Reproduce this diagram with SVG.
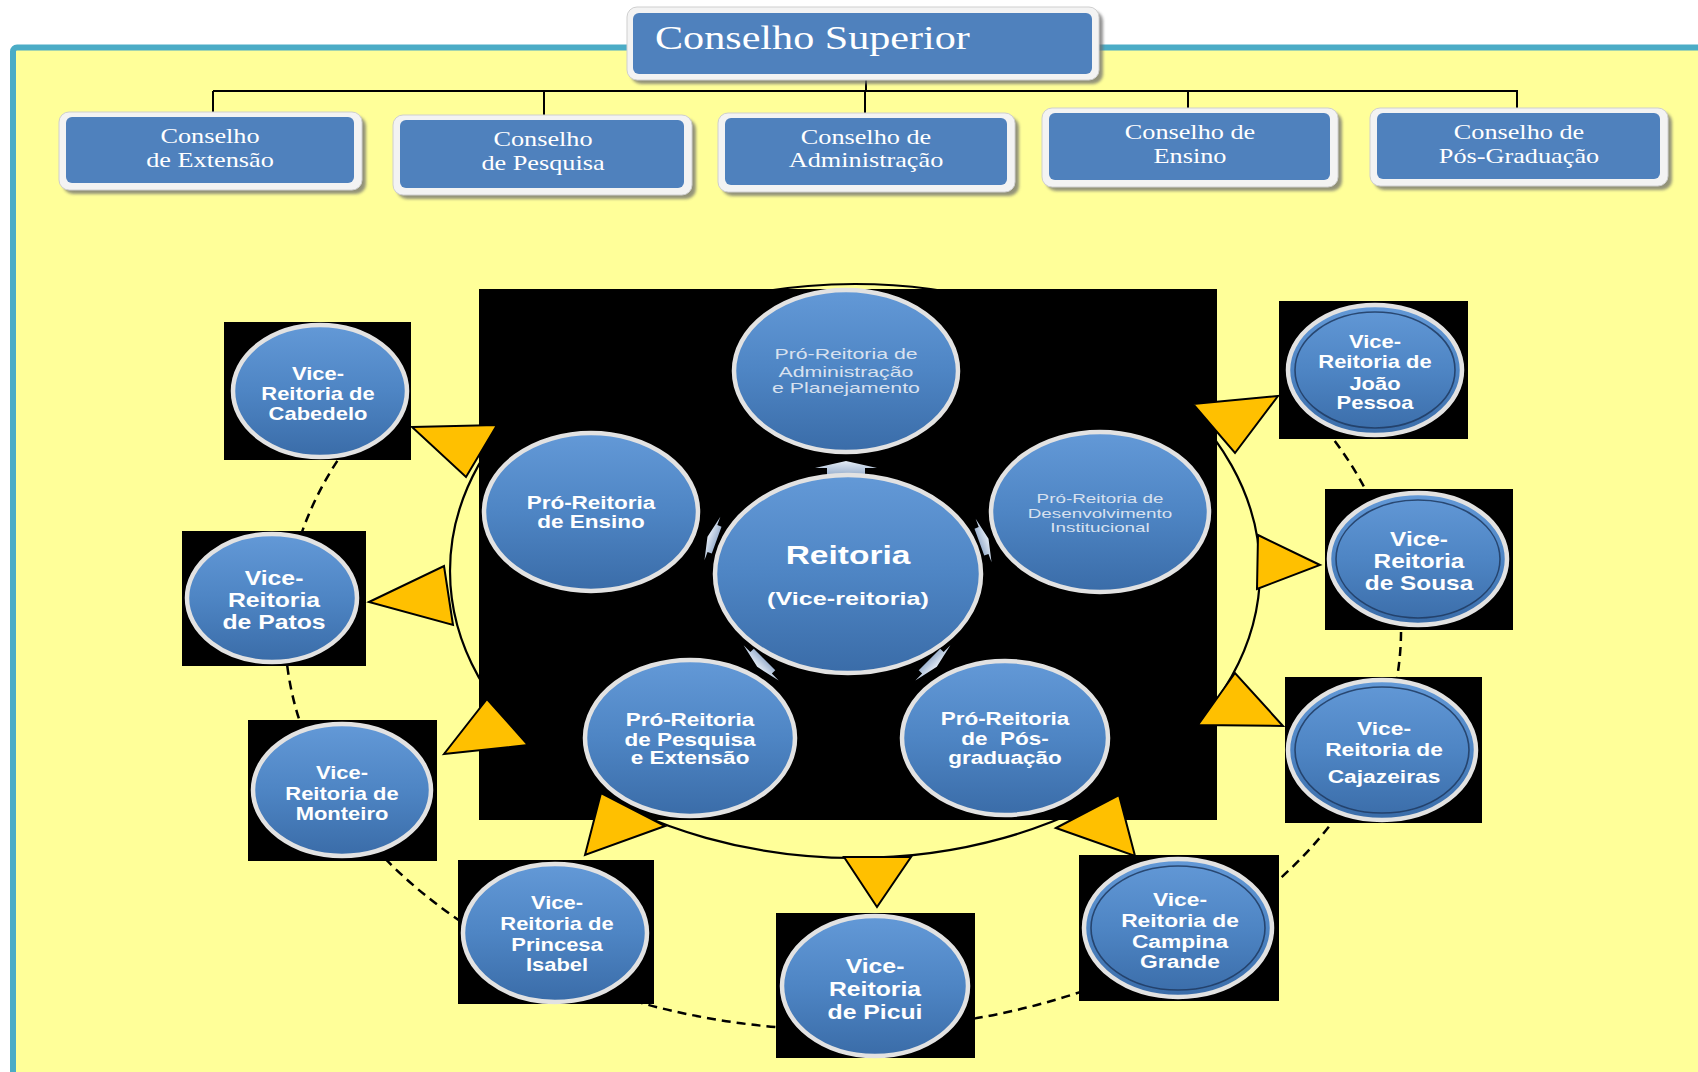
<svg xmlns="http://www.w3.org/2000/svg" width="1698" height="1072" viewBox="0 0 1698 1072">
<defs>
<style>
.rim{fill:#F3F3F3;stroke:#CFCFCF;stroke-width:1}
.cfill{fill:#4F81BD}
.shadow{fill:#6E6E6E;opacity:.75;filter:url(#blur)}
.serif{font-family:"Liberation Serif","Times New Roman",serif;fill:#FFFFFF;text-anchor:middle}
.sb{font-family:"Liberation Sans",Arial,sans-serif;font-weight:bold;fill:#FFFFFF;text-anchor:middle}
.sr{font-family:"Liberation Sans",Arial,sans-serif;fill:#D8E1EF;text-anchor:middle}
.tri{fill:#FFC000;stroke:#000;stroke-width:2;stroke-linejoin:miter}
.dash{fill:none;stroke:#000;stroke-width:2.5;stroke-dasharray:9 6}
.conn{fill:none;stroke:#000;stroke-width:2}
.oval{fill:url(#gBlue);stroke:#E2E2E2;stroke-width:4.5}
.inring{fill:none;stroke:#1E3A60;stroke-width:1.6;opacity:.85}
.vbox{fill:#000}
.barrow{fill:url(#gArrow)}
</style>
<filter id="blur" x="-10%" y="-10%" width="120%" height="130%"><feGaussianBlur stdDeviation="1.5"/></filter>
<linearGradient id="gBlue" x1="0" y1="0" x2="0" y2="1">
<stop offset="0" stop-color="#6399D7"/>
<stop offset="0.5" stop-color="#4E85C4"/>
<stop offset="1" stop-color="#3A6CA8"/>
</linearGradient>
<linearGradient id="gArrow" x1="0" y1="0" x2="0" y2="1">
<stop offset="0" stop-color="#E4ECF6"/>
<stop offset="1" stop-color="#9FB4D0"/>
</linearGradient>
<path id="ba" d="M-19,8 L-19,2 L-31,2 L0,-5 L31,2 L19,2 L19,8 Z"/>
</defs>

<rect x="0" y="0" width="1698" height="1072" fill="#FFFFFF"/>
<rect id="frame" x="13" y="47.5" width="1720" height="1100" rx="4" fill="#FFFF99" stroke="#4BACC6" stroke-width="6"/>

<g id="connectors">
<path class="conn" d="M866,80 V91 M213,91 H1518 M213,91 V112 M544,91 V115 M865,91 V113 M1188,91 V108 M1517,91 V108"/>
<ellipse cx="855" cy="571" rx="405" ry="287" fill="none" stroke="#000" stroke-width="2.2"/>
</g>

<g id="conselho-superior">
<rect class="shadow" x="631" y="11" width="472" height="73" rx="10"/>
<rect class="rim" x="627" y="7" width="472" height="73" rx="10"/>
<rect class="cfill" x="633" y="13" width="459" height="61" rx="6"/>
<text class="serif" style="text-anchor:start" font-size="34" transform="translate(655,49) scale(1.24,1)">Conselho Superior</text>
</g>

<g id="conselho-extensao">
<rect class="shadow" x="63" y="116" width="303" height="78" rx="10"/>
<rect class="rim" x="59" y="112" width="303" height="78" rx="10"/>
<rect class="cfill" x="66" y="117" width="288" height="66" rx="6"/>
<text class="serif" font-size="21" transform="translate(210,0) scale(1.25,1)"><tspan x="0" y="143">Conselho</tspan><tspan x="0" y="167">de Extensão</tspan></text>
</g>

<g id="conselho-pesquisa">
<rect class="shadow" x="397" y="119" width="299" height="80" rx="10"/>
<rect class="rim" x="393" y="115" width="299" height="80" rx="10"/>
<rect class="cfill" x="400" y="120" width="284" height="68" rx="6"/>
<text class="serif" font-size="21" transform="translate(543,0) scale(1.25,1)"><tspan x="0" y="146">Conselho</tspan><tspan x="0" y="170">de Pesquisa</tspan></text>
</g>

<g id="conselho-administracao">
<rect class="shadow" x="722" y="117" width="297" height="79" rx="10"/>
<rect class="rim" x="718" y="113" width="297" height="79" rx="10"/>
<rect class="cfill" x="725" y="118" width="282" height="67" rx="6"/>
<text class="serif" font-size="21" transform="translate(866,0) scale(1.25,1)"><tspan x="0" y="144">Conselho de</tspan><tspan x="0" y="167">Administração</tspan></text>
</g>

<g id="conselho-ensino">
<rect class="shadow" x="1046" y="112" width="296" height="79" rx="10"/>
<rect class="rim" x="1042" y="108" width="296" height="79" rx="10"/>
<rect class="cfill" x="1049" y="113" width="281" height="67" rx="6"/>
<text class="serif" font-size="21" transform="translate(1190,0) scale(1.25,1)"><tspan x="0" y="139">Conselho de</tspan><tspan x="0" y="163">Ensino</tspan></text>
</g>

<g id="conselho-pos">
<rect class="shadow" x="1374" y="112" width="298" height="78" rx="10"/>
<rect class="rim" x="1370" y="108" width="298" height="78" rx="10"/>
<rect class="cfill" x="1377" y="113" width="283" height="66" rx="6"/>
<text class="serif" font-size="21" transform="translate(1519,0) scale(1.25,1)"><tspan x="0" y="139">Conselho de</tspan><tspan x="0" y="163">Pós-Graduação</tspan></text>
</g>

<rect id="central-panel" x="479" y="289" width="738" height="531" fill="#000"/>

<g id="dashed-ring">
<path class="dash" d="M345.8,448.4 A558,400 0 0 0 299.3,540"/>
<path class="dash" d="M285.8,650.9 A558,400 0 0 0 304,733.5"/>
<path class="dash" d="M375,847.8 A558,400 0 0 0 476.9,931.9"/>
<path class="dash" d="M634,1000.9 A558,400 0 0 0 794.3,1028.5"/>
<path class="dash" d="M959,1021 A558,400 0 0 0 1087.6,989.5"/>
<path class="dash" d="M1270.4,887 A558,400 0 0 0 1335.7,817.8"/>
<path class="dash" d="M1395.6,685.7 A558,400 0 0 0 1400.7,616"/>
<path class="dash" d="M1370.6,499.8 A558,400 0 0 0 1326.2,430"/>
</g>

<g id="triangles">
<polygon class="tri" points="412,427 497,425 466,477"/>
<polygon class="tri" points="369,602 444,566 453,625"/>
<polygon class="tri" points="444,754 487,699 528,745"/>
<polygon class="tri" points="585,855 601,793 665,826"/>
<polygon class="tri" points="844,857 911,857 877,907"/>
<polygon class="tri" points="1056,828 1119,795 1135,856"/>
<polygon class="tri" points="1198,725 1235,673 1283,726"/>
<polygon class="tri" points="1258,535 1320,565 1257,589"/>
<polygon class="tri" points="1193,404 1278,396 1235,453"/>
</g>

<g id="reitoria-arrows">
<use href="#ba" class="barrow" transform="translate(846,466)"/>
<use href="#ba" class="barrow" transform="translate(711,538) rotate(-70) scale(0.75)"/>
<use href="#ba" class="barrow" transform="translate(985,540) rotate(70) scale(0.75)"/>
<use href="#ba" class="barrow" transform="translate(760,664) rotate(-135) scale(0.8)"/>
<use href="#ba" class="barrow" transform="translate(934,664) rotate(135) scale(0.8)"/>
</g>

<g id="pro-administracao">
<ellipse class="oval" cx="846" cy="371" rx="112" ry="81"/>
<text class="sr" font-size="15" transform="translate(846,0) scale(1.42,1)"><tspan x="0" y="359">Pró-Reitoria de</tspan><tspan x="0" y="377">Administração</tspan><tspan x="0" y="393">e Planejamento</tspan></text>
</g>

<g id="pro-ensino">
<ellipse class="oval" cx="591" cy="512" rx="107" ry="79"/>
<text class="sb" font-size="18" transform="translate(591,0) scale(1.25,1)"><tspan x="0" y="509">Pró-Reitoria</tspan><tspan x="0" y="528">de Ensino</tspan></text>
</g>

<g id="pro-desenvolvimento">
<ellipse class="oval" cx="1100" cy="512" rx="109" ry="80"/>
<text class="sr" font-size="13" transform="translate(1100,0) scale(1.45,1)"><tspan x="0" y="503">Pró-Reitoria de</tspan><tspan x="0" y="518">Desenvolvimento</tspan><tspan x="0" y="532">Institucional</tspan></text>
</g>

<g id="pro-pesquisa-extensao">
<ellipse class="oval" cx="690" cy="738" rx="105" ry="78"/>
<text class="sb" font-size="18" transform="translate(690,0) scale(1.25,1)"><tspan x="0" y="726">Pró-Reitoria</tspan><tspan x="0" y="746">de Pesquisa</tspan><tspan x="0" y="764">e Extensão</tspan></text>
</g>

<g id="pro-pos-graduacao">
<ellipse class="oval" cx="1005" cy="738" rx="103" ry="77"/>
<text class="sb" font-size="18" xml:space="preserve" transform="translate(1005,0) scale(1.25,1)"><tspan x="0" y="725">Pró-Reitoria</tspan><tspan x="0" y="745">de  Pós-</tspan><tspan x="0" y="764">graduação</tspan></text>
</g>

<g id="reitoria">
<ellipse class="oval" cx="848" cy="574" rx="133" ry="99"/>
<text class="sb" font-size="25" transform="translate(848,0) scale(1.34,1)"><tspan x="0" y="564">Reitoria</tspan></text>
<text class="sb" font-size="18" transform="translate(848,0) scale(1.4,1)"><tspan x="0" y="605">(Vice-reitoria)</tspan></text>
</g>

<g id="vice-cabedelo">
<rect class="vbox" x="224" y="322" width="187" height="138"/>
<ellipse class="oval" cx="320" cy="391" rx="87" ry="66"/>
<text class="sb" font-size="18" transform="translate(318,0) scale(1.22,1)"><tspan x="0" y="380">Vice-</tspan><tspan x="0" y="400">Reitoria de</tspan><tspan x="0" y="420">Cabedelo</tspan></text>
</g>

<g id="vice-patos">
<rect class="vbox" x="182" y="531" width="184" height="135"/>
<ellipse class="oval" cx="272" cy="598" rx="85" ry="64"/>
<text class="sb" font-size="21" transform="translate(274,0) scale(1.18,1)"><tspan x="0" y="585">Vice-</tspan><tspan x="0" y="607">Reitoria</tspan><tspan x="0" y="629">de Patos</tspan></text>
</g>

<g id="vice-monteiro">
<rect class="vbox" x="248" y="720" width="189" height="141"/>
<ellipse class="oval" cx="342" cy="790" rx="89" ry="66"/>
<text class="sb" font-size="18" transform="translate(342,0) scale(1.22,1)"><tspan x="0" y="779">Vice-</tspan><tspan x="0" y="800">Reitoria de</tspan><tspan x="0" y="820">Monteiro</tspan></text>
</g>

<g id="vice-princesa-isabel">
<rect class="vbox" x="458" y="860" width="196" height="144"/>
<ellipse class="oval" cx="555" cy="933" rx="92" ry="69"/>
<text class="sb" font-size="18" transform="translate(557,0) scale(1.22,1)"><tspan x="0" y="909">Vice-</tspan><tspan x="0" y="930">Reitoria de</tspan><tspan x="0" y="951">Princesa</tspan><tspan x="0" y="971">Isabel</tspan></text>
</g>

<g id="vice-picui">
<rect class="vbox" x="776" y="913" width="199" height="145"/>
<ellipse class="oval" cx="875" cy="986" rx="93" ry="70"/>
<text class="sb" font-size="21" transform="translate(875,0) scale(1.18,1)"><tspan x="0" y="973">Vice-</tspan><tspan x="0" y="996">Reitoria</tspan><tspan x="0" y="1019">de Picui</tspan></text>
</g>

<g id="vice-campina-grande">
<rect class="vbox" x="1079" y="855" width="200" height="146"/>
<ellipse class="oval" cx="1178" cy="928" rx="94" ry="69"/>
<ellipse class="inring" cx="1178" cy="928" rx="87" ry="62"/>
<text class="sb" font-size="19" transform="translate(1180,0) scale(1.2,1)"><tspan x="0" y="906">Vice-</tspan><tspan x="0" y="927">Reitoria de</tspan><tspan x="0" y="948">Campina</tspan><tspan x="0" y="968">Grande</tspan></text>
</g>

<g id="vice-cajazeiras">
<rect class="vbox" x="1285" y="677" width="197" height="146"/>
<ellipse class="oval" cx="1382" cy="750" rx="94" ry="70"/>
<ellipse class="inring" cx="1382" cy="750" rx="87" ry="63"/>
<text class="sb" font-size="19" transform="translate(1384,0) scale(1.2,1)"><tspan x="0" y="735">Vice-</tspan><tspan x="0" y="756">Reitoria de</tspan><tspan x="0" y="783">Cajazeiras</tspan></text>
</g>

<g id="vice-sousa">
<rect class="vbox" x="1325" y="489" width="188" height="141"/>
<ellipse class="oval" cx="1418" cy="559" rx="89" ry="66"/>
<ellipse class="inring" cx="1418" cy="559" rx="82" ry="59"/>
<text class="sb" font-size="20" transform="translate(1419,0) scale(1.22,1)"><tspan x="0" y="546">Vice-</tspan><tspan x="0" y="568">Reitoria</tspan><tspan x="0" y="590">de Sousa</tspan></text>
</g>

<g id="vice-joao-pessoa">
<rect class="vbox" x="1279" y="301" width="189" height="138"/>
<ellipse class="oval" cx="1375" cy="370" rx="87" ry="65"/>
<ellipse class="inring" cx="1375" cy="370" rx="80" ry="58"/>
<text class="sb" font-size="18" transform="translate(1375,0) scale(1.22,1)"><tspan x="0" y="348">Vice-</tspan><tspan x="0" y="368">Reitoria de</tspan><tspan x="0" y="390">João</tspan><tspan x="0" y="409">Pessoa</tspan></text>
</g>
</svg>
